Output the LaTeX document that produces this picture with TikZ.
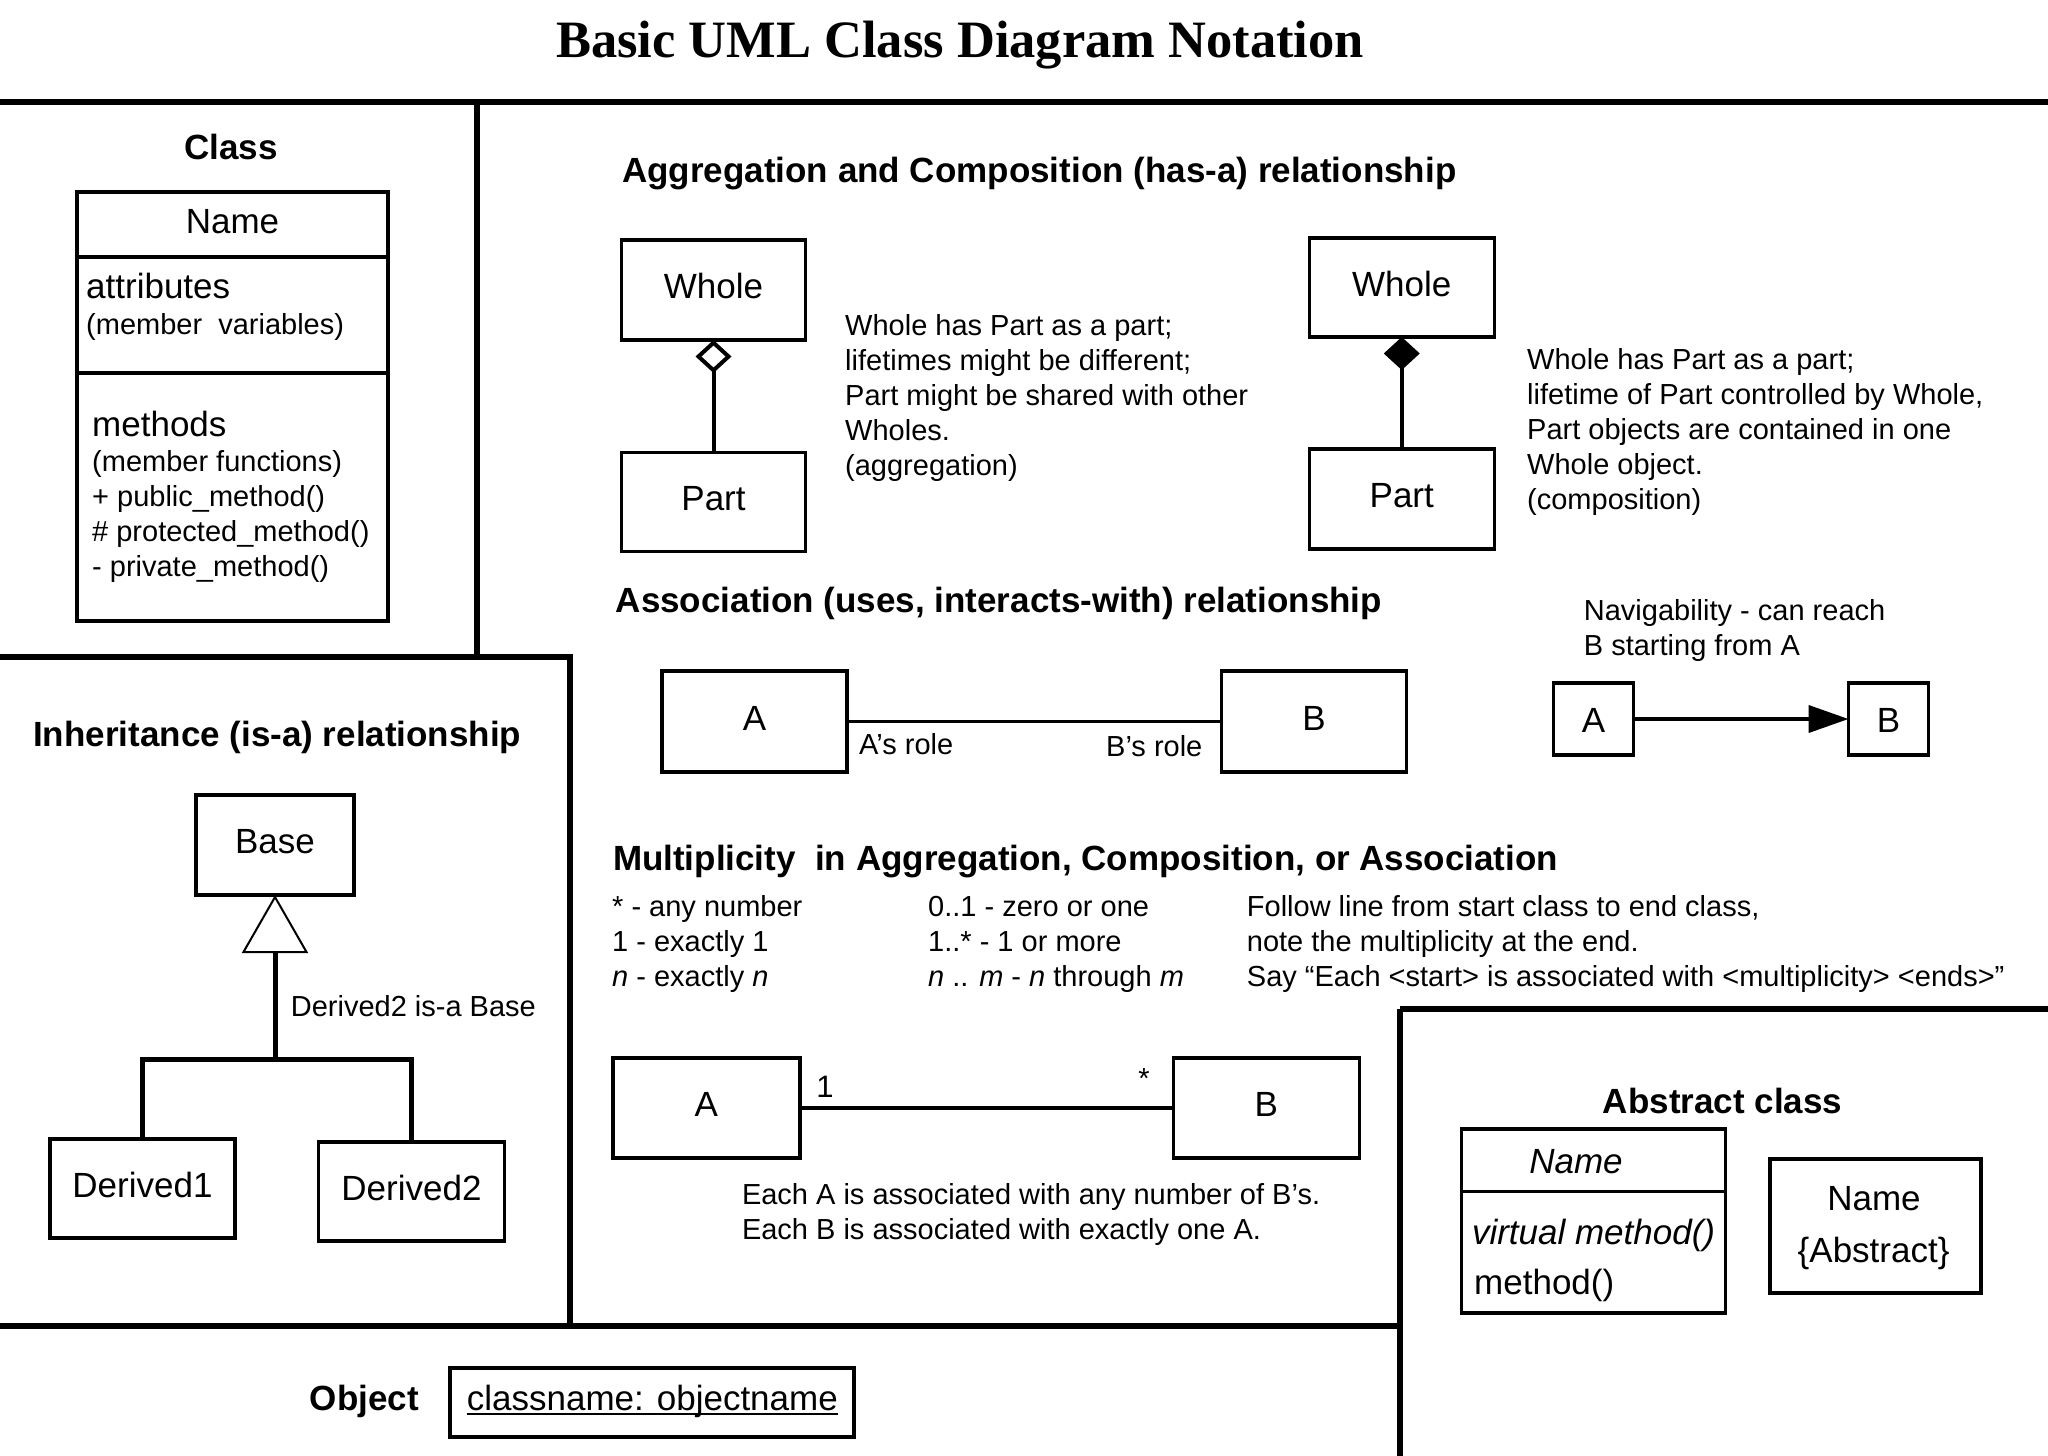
\documentclass[tikz,border=0pt]{standalone}
\usepackage{fontspec}
\setmainfont{Liberation Sans}
\newfontfamily\titlefont{Liberation Serif}
\usetikzlibrary{arrows.meta}
\newcommand{\fS}{\fontsize{29pt}{35pt}\selectfont}
\newcommand{\fL}{\fontsize{35pt}{42pt}\selectfont}
\newcommand{\fH}{\fontsize{35pt}{42pt}\selectfont\bfseries}
\newcommand{\mlines}[1]{\begin{tabular}[t]{@{}l@{}}#1\end{tabular}}
\begin{document}
\begin{tikzpicture}[x=1pt,y=-1pt,
  sect/.style={line width=5.5pt},
  box/.style={draw, line width=3.5pt, inner sep=0pt, outer sep=0pt, font=\fL, text height=26pt, text depth=9pt},
  conn/.style={line width=4pt},
  txt/.style={inner sep=0pt, anchor=base west, font=\fS},
  lbl/.style={inner sep=0pt, anchor=base west, font=\fL},
  hdr/.style={inner sep=0pt, anchor=base west, font=\fH},
]
\useasboundingbox (0,0) rectangle (2048,1456);

% title
\node[inner sep=0pt, anchor=base, font=\titlefont\bfseries\fontsize{52.5pt}{60pt}\selectfont] (title) at (960,57) {Basic UML Class Diagram Notation};

% section lines
\draw[sect] (0,102) -- (2048,102);
\draw[sect] (477,102) -- (477,657);
\draw[sect] (0,657) -- (570,657) -- (570,1326);
\draw[sect] (0,1326) -- (1400,1326);
\draw[sect] (1400,1009) -- (1400,1456);
\draw[sect] (1400,1009) -- (2048,1009);

% Class
\node[hdr, anchor=base] (classhead) at (231,159) {Class};
\node[box, anchor=north west, minimum width=311pt, minimum height=65pt] (cname) at (77,192) {Name};
\node[box, anchor=north, minimum width=311pt, minimum height=116pt] (cattr) at (cname.south) {};
\node[box, anchor=north, minimum width=311pt, minimum height=248pt] (cmeth) at (cattr.south) {};
\node[lbl] (attr) at (86,298) {attributes};
\node[txt] (attrsub) at (86,334) {(member~ variables)};
\node[lbl] (meth) at (92,436) {methods};
\node[txt] (methlist) at (92,471) {\mlines{(member functions)\\+ public\_method()\\\# protected\_method()\\- private\_method()}};

% Inheritance
\node[hdr] (inhhead) at (33,746) {Inheritance (is-a) relationship};
\node[box, minimum width=158pt, minimum height=100pt] (base) at (275,845) {Base};
\node[box, minimum width=185pt, minimum height=99pt] (d1) at (142.5,1188.5) {Derived1};
\node[box, minimum width=186pt, minimum height=99pt] (d2) at (411.5,1191.5) {Derived2};
\coordinate (hj) at (275,1059);
\draw[conn, line width=5pt, {Triangle[open,length=58pt,width=66pt,line width=2pt]}-] (base.south) -- (hj);
\draw[conn, line width=5pt] (d1.north) |- (hj) -| (d2.north);
\node[txt] (isa) at (290.7,1016) {Derived2 is-a Base};

% Aggregation / Composition
\node[hdr] (agghead) at (622,182) {Aggregation and Composition (has-a) relationship};
\node[box, minimum width=184pt, minimum height=100pt] (whole1) at (713.5,290) {Whole};
\node[box, minimum width=184pt, minimum height=99pt] (part1) at (713.5,502) {Part};
\draw[conn, {Diamond[open,length=33pt,width=36pt]}-] (whole1.south) -- (part1.north);
\node[txt] (aggtxt) at (845,335) {\mlines{Whole has Part as a part;\\lifetimes might be different;\\Part might be shared with other\\Wholes.\\(aggregation)}};
\node[box, minimum width=185pt, minimum height=99pt] (whole2) at (1401.75,287.5) {Whole};
\node[box, minimum width=185pt, minimum height=100pt] (part2) at (1401.75,499) {Part};
\draw[conn, {Diamond[length=33pt,width=36pt]}-] (whole2.south) -- (part2.north);
\node[txt] (comptxt) at (1527,369) {\mlines{Whole has Part as a part;\\lifetime of Part controlled by Whole,\\Part objects are contained in one\\Whole object.\\(composition)}};

% Association
\node[hdr] (assochead) at (615.6,612) {Association (uses, interacts-with) relationship};
\node[box, minimum width=185pt, minimum height=101pt] (assA) at (754.5,721.5) {A};
\node[box, minimum width=185pt, minimum height=101pt] (assB) at (1314,721.5) {B};
\draw[conn, line width=3.5pt] (assA) -- (assB);
\node[txt] (arole) at (859,754) {A’s role};
\node[txt] (brole) at (1106,756) {B’s role};
\node[txt] (navtxt) at (1583.7,620) {\mlines{Navigability - can reach\\B starting from A}};
\node[box, text depth=0pt, minimum width=80pt, minimum height=72pt] (navA) at (1593.5,719) {A};
\node[box, text depth=0pt, minimum width=80pt, minimum height=72pt] (navB) at (1888.5,719) {B};
\draw[conn, -{Triangle[length=40pt,width=27pt]}] (navA) -- (navB);

% Multiplicity
\node[hdr] (multhead) at (612.8,870) {Multiplicity~ in Aggregation, Composition, or Association};
\node[txt] (mc1) at (612,916) {\mlines{* - any number\\1 - exactly 1\\\textit{n} - exactly \textit{n}}};
\node[txt] (mc2) at (928,916) {\mlines{0..1 - zero or one\\1..* - 1 or more\\\textit{n} .. \textit{m} - \textit{n} through \textit{m}}};
\node[txt] (mc3) at (1246.7,916) {\mlines{Follow line from start class to end class,\\note the multiplicity at the end.\\Say “Each <start> is associated with <multiplicity> <ends>”}};
\node[box, minimum width=187pt, minimum height=100pt] (mA) at (706.3,1108) {A};
\node[box, minimum width=186pt, minimum height=100pt] (mB) at (1266.4,1108) {B};
\draw[conn, line width=3.5pt] (mA) -- (mB);
\node[txt, anchor=base, font=\fontsize{31pt}{37pt}\selectfont] (m1) at (825,1097) {1};
\node[txt, anchor=base] (mstar) at (1144,1088) {*};
\node[txt] (mtxt) at (741.8,1204) {\mlines{Each A is associated with any number of B’s.\\Each B is associated with exactly one A.}};

% Object
\node[hdr, anchor=base east] (objhead) at (419,1410) {Object};
\node[box, minimum width=404pt, minimum height=69pt] (objbox) at (651.75,1402.5) {};
\node[lbl] (objtxt) at (466.7,1410) {classname: objectname};
\draw[line width=2pt] ([yshift=-4pt]objtxt.base west) -- ([yshift=-4pt]objtxt.base east);

% Abstract class
\node[hdr, anchor=base] (abshead) at (1722.6,1113) {Abstract class};
\node[box, anchor=north west, minimum width=264pt, minimum height=62.7pt] (absname) at (1461.3,1129) {};
\node[box, anchor=north, minimum width=264pt, minimum height=121.3pt] (absmeth) at (absname.south) {};
\node[lbl, anchor=base, font=\fL\itshape] (absnm) at (1576,1173) {Name};
\node[lbl, font=\fL\itshape] (absv) at (1471.8,1244) {virtual method()};
\node[lbl] (absm) at (1474,1294) {method()};
\node[box, minimum width=211pt, minimum height=134pt] (abs2) at (1875.35,1225.85) {};
\node[lbl, anchor=base] (abs2a) at (1874,1210) {Name};
\node[lbl, anchor=base] (abs2b) at (1873.6,1262) {\{Abstract\}};
\end{tikzpicture}
\end{document}
